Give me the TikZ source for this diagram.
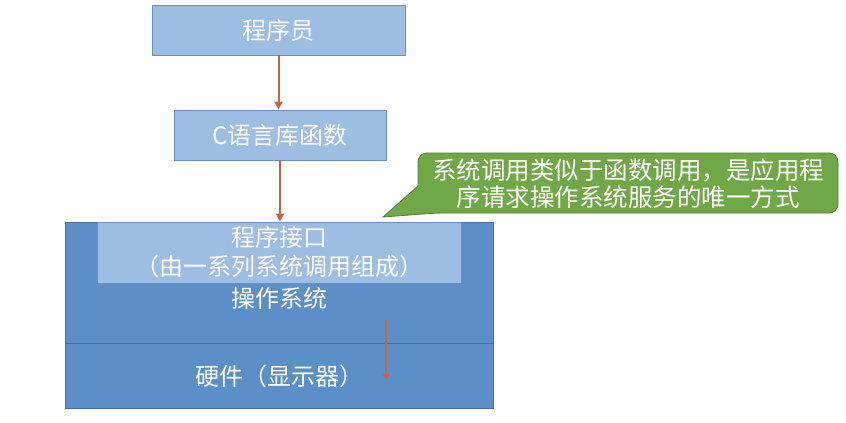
\documentclass[tikz,border=0pt]{standalone}
\usepackage{fontspec}
\setmainfont{Noto Sans CJK SC}
\usetikzlibrary{arrows.meta}
\definecolor{lightbox}{HTML}{9DBDE2}
\definecolor{lightedge}{HTML}{6A8FC0}
\definecolor{osfill}{HTML}{5C8EC7}
\definecolor{osedge}{HTML}{46719F}
\definecolor{callfill}{HTML}{70A848}
\definecolor{calledge}{HTML}{4F7F32}
\definecolor{arrowc}{HTML}{C8643A}
\tikzset{
  lbox/.style={draw=lightedge, fill=lightbox, line width=0.8pt, text=white, font=\fontsize{24}{29}\selectfont, inner sep=0pt, align=center},
  osbox/.style={draw=osedge, fill=osfill, line width=0.8pt, inner sep=0pt},
  wtext/.style={text=white, font=\fontsize{24}{29}\selectfont, inner sep=0pt, align=center},
  conn/.style={draw=arrowc, line width=2pt, -{Triangle[length=8pt,width=8pt]}},
}
\begin{document}
\begin{tikzpicture}[x=1pt,y=-1pt]
\useasboundingbox (0,0) rectangle (846,423);
\fill[white] (0,0) rectangle (846,423);
% OS and hardware
\node[osbox, minimum width=428pt, minimum height=121pt] (os) at (279,282.5) {};
\node[osbox, minimum width=428pt, minimum height=65pt] (hw) at (279,375.5) {};
\node[lbox, minimum width=364pt, minimum height=61pt] (iface) at (279,252.5) {程序接口\\（由一系列系统调用组成）};
\node[wtext] (oslabel) at (279,298) {操作系统};
\node[wtext] (hwlabel) at (279,376) {硬件（显示器）};
% top boxes
\node[lbox, minimum width=253pt, minimum height=50pt] (prog) at (278.5,30) {程序员};
\node[lbox, minimum width=212pt, minimum height=50pt] (clib) at (280,135) {C语言库函数};
\draw[conn] (prog.south) -- (prog.south |- clib.north);
\draw[conn] (clib.south) -- (clib.south |- iface.north);
% small arrow inside
\coordinate (sa) at (386,320);
\coordinate (sb) at (386,380);
\draw[draw=arrowc, line width=1.8pt, -{Triangle[length=6pt,width=6pt]}] (sa) -- (sb);
% callout
\coordinate (tip) at (383,217);
\draw[draw=calledge, fill=callfill, line width=0.8pt]
  (418,186) [rounded corners=9pt] -- (418,153) -- (838,153) -- (838,213) -- (436,213) [sharp corners] -- (tip) -- cycle;
\node[wtext, font=\fontsize{24.5}{27}\selectfont] (note) at (628,183.5) {系统调用类似于函数调用，是应用程\\序请求操作系统服务的唯一方式};
\end{tikzpicture}
\end{document}
